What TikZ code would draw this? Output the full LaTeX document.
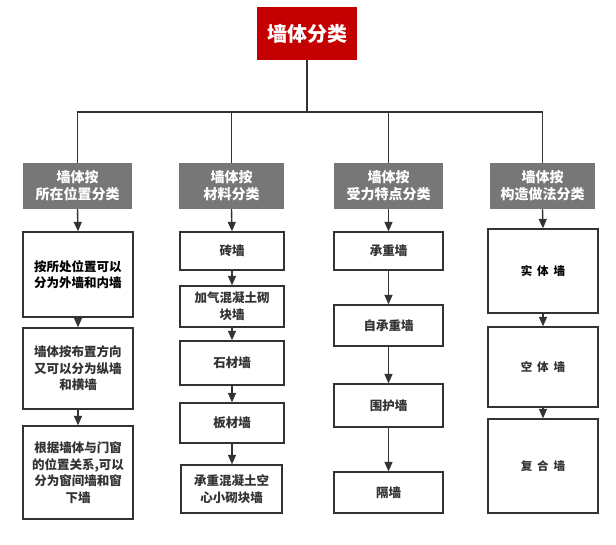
\documentclass[tikz,border=0pt]{standalone}
\usepackage{fontspec}
\setmainfont{Noto Sans CJK SC}
\usetikzlibrary{arrows.meta}
\definecolor{titlered}{HTML}{C40000}
\definecolor{headgray}{HTML}{777777}
\definecolor{linegray}{HTML}{333333}
\definecolor{txtgray}{HTML}{333333}
\tikzset{
  titlebox/.style={fill=titlered, draw=none, text=white, font=\bfseries\fontsize{20}{24}\selectfont, inner sep=0pt, minimum width=100pt, minimum height=53pt},
  headbox/.style={fill=headgray, draw=none, text=white, font=\bfseries\fontsize{14}{17}\selectfont, align=center, inner sep=0pt, minimum height=46pt},
  itembox/.style={draw=linegray, line width=1.3pt, fill=white, text=txtgray, font=\bfseries\fontsize{12.5}{16.5}\selectfont, align=center, inner sep=0pt},
  conn/.style={draw=linegray, line width=1.4pt},
  arr/.style={draw=linegray, line width=1.4pt, -{Triangle[length=9.5pt,width=8pt]}}
}
\begin{document}
\begin{tikzpicture}[x=1pt,y=-1pt]
\fill[white] (0,0) rectangle (616,544);
\useasboundingbox (0,0) rectangle (616,544);

\node[titlebox] (title) at (307,33.5) {墙体分类};

\node[headbox, minimum width=109pt] (h1) at (77.5,186) {墙体按\\所在位置分类};
\node[headbox, minimum width=105pt] (h2) at (231.5,186) {墙体按\\材料分类};
\node[headbox, minimum width=109pt] (h3) at (388.5,186) {墙体按\\受力特点分类};
\node[headbox, minimum width=105pt] (h4) at (542.5,186) {墙体按\\构造做法分类};

\coordinate (bus) at (307,112);
\draw[conn] (title.south) -- (bus);
\draw[conn] (bus) -| (h1.north);
\draw[conn] (bus) -| (h2.north);
\draw[conn] (bus) -| (h3.north);
\draw[conn] (bus) -| (h4.north);

% column 1
\node[itembox, text=black, minimum width=110pt, minimum height=85pt] (a1) at (78,274.5) {按所处位置可以\\分为外墙和内墙};
\node[itembox, minimum width=110pt, minimum height=81pt] (a2) at (78,368.5) {墙体按布置方向\\又可以分为纵墙\\和横墙};
\node[itembox, minimum width=110pt, minimum height=93pt] (a3) at (78,472.5) {根据墙体与门窗\\的位置关系,可以\\分为窗间墙和窗\\下墙};

% column 2
\node[itembox, minimum width=104pt, minimum height=38pt] (b1) at (232,251) {砖墙};
\node[itembox, minimum width=104pt, minimum height=41pt] (b2) at (232,306.5) {加气混凝土砌\\块墙};
\node[itembox, minimum width=104pt, minimum height=44pt] (b3) at (232,363) {石材墙};
\node[itembox, minimum width=104pt, minimum height=40pt] (b4) at (232,423) {板材墙};
\node[itembox, minimum width=101pt, minimum height=48pt] (b5) at (231.5,489) {承重混凝土空\\心小砌块墙};

% column 3
\node[itembox, minimum width=109pt, minimum height=38pt] (c1) at (388.5,251) {承重墙};
\node[itembox, minimum width=109pt, minimum height=41pt] (c2) at (388.5,325.5) {自承重墙};
\node[itembox, minimum width=109pt, minimum height=43pt] (c3) at (388.5,405.5) {围护墙};
\node[itembox, minimum width=109pt, minimum height=41pt] (c4) at (388.5,492.5) {隔墙};

% column 4
\node[itembox, text=black, font=\bfseries\fontsize{11.5}{14}\selectfont, minimum width=110pt, minimum height=84pt] (d1) at (543,271) {实\hspace{5pt}体\hspace{5pt}墙};
\node[itembox, font=\bfseries\fontsize{11.5}{14}\selectfont, minimum width=110pt, minimum height=80pt] (d2) at (543,367) {空\hspace{5pt}体\hspace{5pt}墙};
\node[itembox, font=\bfseries\fontsize{11.5}{14}\selectfont, minimum width=110pt, minimum height=94pt] (d3) at (543,466) {复\hspace{5pt}合\hspace{5pt}墙};

% arrows
\draw[arr] (h1.south) -- (a1.north);
\draw[arr] (a1.south) -- (a2.north);
\draw[arr] (a2.south) -- (a3.north);

\draw[arr] (h2.south) -- (b1.north);
\draw[arr] (b1.south) -- (b2.north);
\draw[arr] (b2.south) -- (b3.north);
\draw[arr] (b3.south) -- (b4.north);
\draw[arr] (b4.south) -- (b5.north -| b4.south);

\draw[arr] (h3.south) -- (c1.north);
\draw[arr] (c1.south) -- (c2.north);
\draw[arr] (c2.south) -- (c3.north);
\draw[arr] (c3.south) -- (c4.north);

\draw[arr] (h4.south) -- (d1.north);
\draw[arr] (d1.south) -- (d2.north);
\draw[arr] (d2.south) -- (d3.north);
\end{tikzpicture}
\end{document}
